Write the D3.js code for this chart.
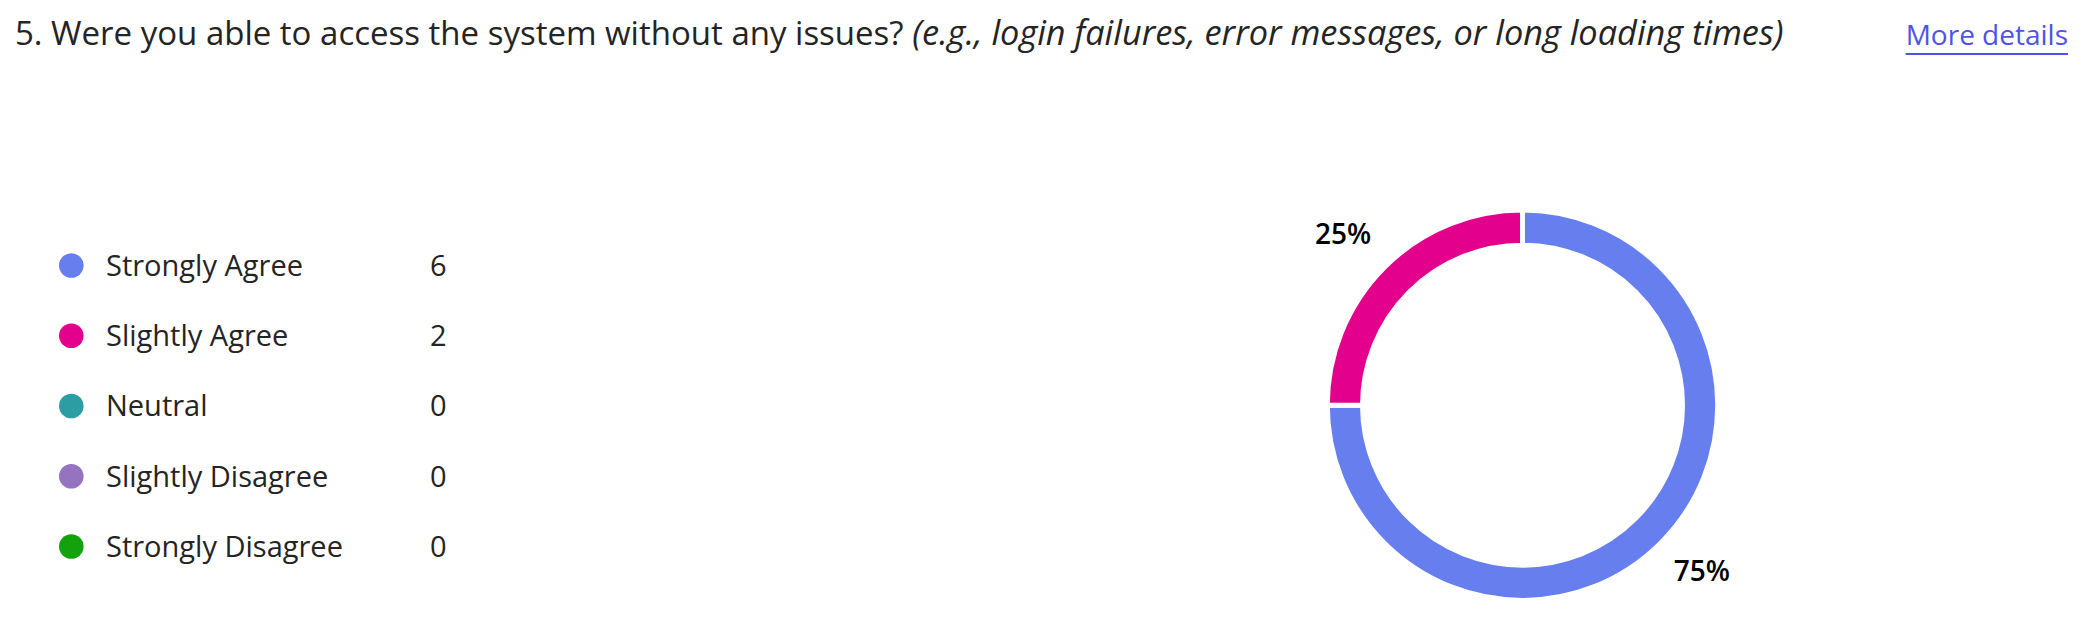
<!DOCTYPE html>
<html>
<head>
<meta charset="utf-8">
<script src="https://cdn.jsdelivr.net/npm/d3@7"></script>
<style>
  html, body { margin: 0; padding: 0; background: #ffffff; }
  svg { display: block; font-family: "Open Sans", "Noto Sans", sans-serif; }
</style>
</head>
<body>
<svg id="chart" width="2082" height="640"></svg>
<script>
const titleMain = "5. Were you able to access the system without any issues? ";
const titleNote = "(e.g., login failures, error messages, or long loading times)";
const linkText = "More details";
const categories = ["Strongly Agree", "Slightly Agree", "Neutral", "Slightly Disagree", "Strongly Disagree"];
const counts = [6, 2, 0, 0, 0];
const colors = ["#667eee", "#e3008c", "#2c9ea3", "#9573c0", "#13a10e"];

const svg = d3.select("#chart");

// Title
const title = svg.append("text")
  .attr("x", 15).attr("y", 45)
  .attr("fill", "#242424");
title.append("tspan").attr("font-size", 33).text(titleMain);
title.append("tspan").attr("font-size", 34.3).attr("font-style", "italic").text(titleNote);

// More details link
const link = svg.append("text")
  .attr("x", 2068).attr("y", 45)
  .attr("text-anchor", "end")
  .attr("fill", "#4f52e8")
  .attr("font-size", 28)
  .text(linkText);
const lb = link.node().getBBox();
svg.append("rect")
  .attr("x", lb.x).attr("y", 53)
  .attr("width", lb.width).attr("height", 2)
  .attr("fill", "#4f52e8");

// Legend
const y = d3.scalePoint().domain(categories).range([265.5, 546.5]);
const legend = svg.append("g");
const rows = legend.selectAll("g").data(categories).join("g")
  .attr("transform", d => `translate(0,${y(d)})`);
rows.append("circle").attr("cx", 71.3).attr("r", 12.3)
  .attr("fill", (d, i) => colors[i]);
rows.append("text").attr("x", 106).attr("dy", "0.36em")
  .attr("font-size", 29).attr("fill", "#242424")
  .text(d => d);
rows.append("text").attr("x", 430).attr("dy", "0.36em")
  .attr("font-size", 29).attr("fill", "#242424")
  .text((d, i) => counts[i]);

// Donut
const cx = 1522.5, cy = 405.2;
const total = d3.sum(counts);
const pie = d3.pie().sort(null).value(d => d.value);
const data = pie(categories.map((c, i) => ({ name: c, value: counts[i], color: colors[i] })));
const arc = d3.arc().innerRadius(160).outerRadius(195.2);
const g = svg.append("g").attr("transform", `translate(${cx},${cy})`);
g.selectAll("path").data(data.filter(d => d.value > 0)).join("path")
  .attr("d", arc)
  .attr("fill", d => d.data.color)
  .attr("stroke", "#ffffff").attr("stroke-width", 5)
  .attr("stroke-linejoin", "miter");

const labelArc = d3.arc().innerRadius(238).outerRadius(238);
g.selectAll("text.pct").data(data.filter(d => d.value > 0)).join("text")
  .attr("class", "pct")
  .attr("transform", d => {
    const [x, yy] = labelArc.centroid(d);
    return `translate(${x + Math.sign(x) * 11},${yy - 3})`;
  })
  .attr("text-anchor", "middle").attr("dy", "0.36em")
  .attr("font-size", 28).attr("font-weight", 600).attr("fill", "#000000")
  .text(d => Math.round(d.value / total * 100) + "%");
</script>
</body>
</html>
